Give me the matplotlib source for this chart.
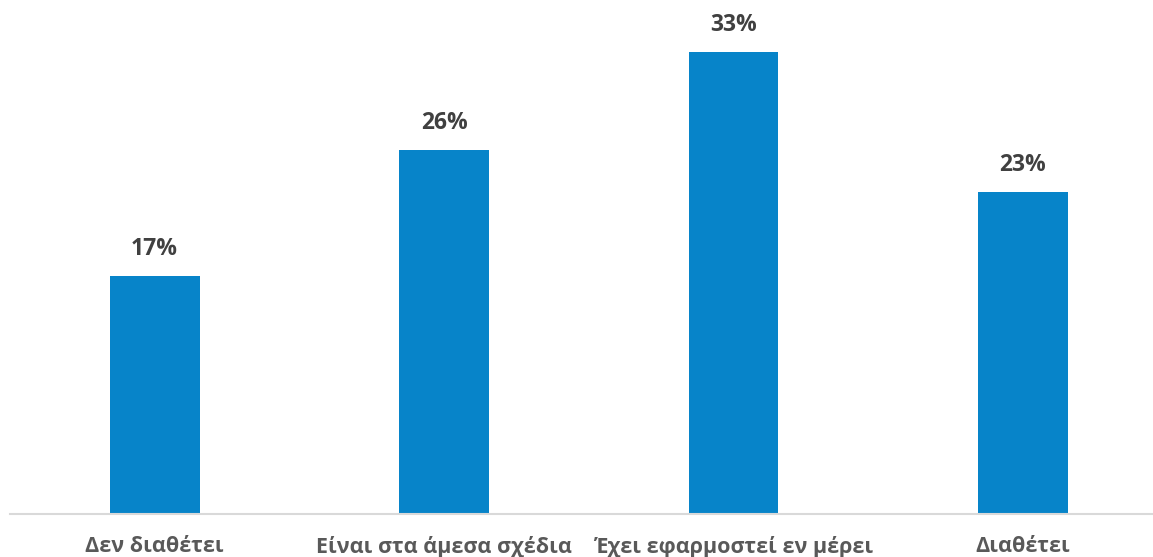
import matplotlib
matplotlib.use("Agg")
import matplotlib.pyplot as plt

plt.rcParams["font.family"] = ["Open Sans", "DejaVu Sans"]

# Survey answers and share of respondents (%)
categories = ["Δεν διαθέτει", "Είναι στα άμεσα σχέδια", "Έχει εφαρμοστεί εν μέρει", "Διαθέτει"]
shares = [17, 26, 33, 23]

bar_color = "#0784C9"
label_color = "#404040"
tick_color = "#595959"

fig = plt.figure(figsize=(11.53, 5.57), dpi=100)
ax = fig.add_axes([10 / 1153, 43 / 557, 1143 / 1153, 504 / 557])

x = range(len(categories))
bars = ax.bar(x, shares, width=0.31, color=bar_color, zorder=2)

for b, v in zip(bars, shares):
    ax.annotate(f"{v}%", (b.get_x() + b.get_width() / 2, v),
                xytext=(0, 10.5), textcoords="offset points",
                ha="center", va="bottom", fontsize=16.5, fontweight="bold",
                color=label_color)

ax.set_xlim(-0.5, 3.45)
ax.set_ylim(0, 36)
ax.set_xticks(list(x))
ax.set_xticklabels(categories, fontsize=15.5, fontweight="bold", color=tick_color)
ax.tick_params(axis="x", length=0, pad=16)
ax.set_yticks([])

for side in ["top", "right", "left"]:
    ax.spines[side].set_visible(False)
ax.spines["bottom"].set_color("#d9d9d9")
ax.spines["bottom"].set_linewidth(1.5)

fig.savefig("out.png", dpi=100)
